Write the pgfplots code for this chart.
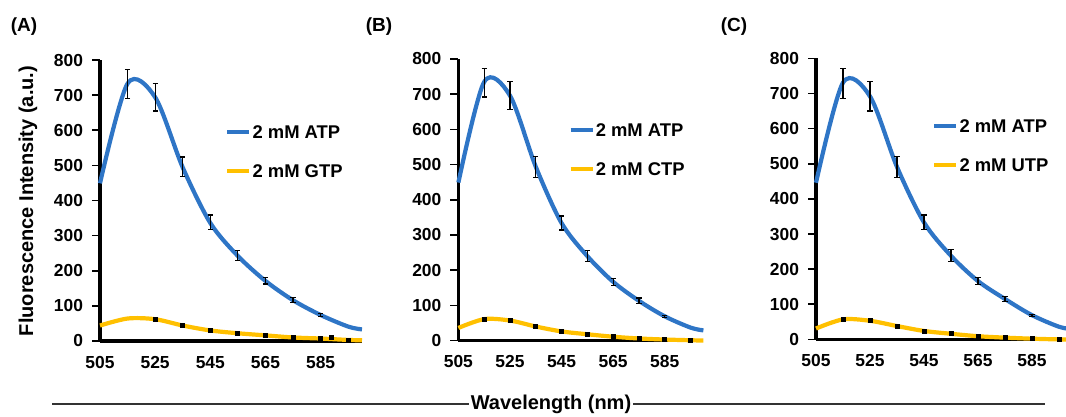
\documentclass[border=0pt]{standalone}
\usepackage{fontspec}
\setmainfont{Liberation Sans}
\usepackage{pgfplots}
\pgfplotsset{compat=1.18}

\definecolor{atpblue}{RGB}{46,117,198}
\definecolor{ntpgold}{RGB}{255,192,0}

% ---- panel A ----
\pgfplotstableread{
x y
505 449
515 733
525 694
535 494
545 336
555 242
565 171
575 116
585 74
595 41
600 33
}\atpA
\pgfplotstableread{
x y e
515 731 41
525 694 39
535 496 28
545 338 21
555 243 14
565 171 9
575 117 7
585 74 5
}\barA
\pgfplotstableread{
x y
505 44
515 64
525 62
535 44
545 30
555 22
565 16
575 10
585 7
595 3
600 2
}\gtp
\pgfplotstableread{
x y
525 62
535 44
545 30
555 22
565 16
575 10
585 8
589 9
595 2
}\gtpm

% ---- panel B ----
\pgfplotstableread{
x y
505 449
515 735
525 696
535 494
545 334
555 240
565 167
575 113
585 69
595 37
600 29
}\atpB
\pgfplotstableread{
x y e
515 733 41
525 696 40
535 494 30
545 334 20
555 240 16
565 167 10
575 113 8
585 68 3
}\barB
\pgfplotstableread{
x y
505 36
515 61
525 57
535 40
545 26
555 18
565 11
575 6
585 3
595 1
600 0
}\ctp
\pgfplotstableread{
x y
515 61
525 57
535 40
545 26
555 18
565 11
575 6
585 3
595 1
}\ctpm

% ---- panel C ----
\pgfplotstableread{
x y
505 446
515 731
525 692
535 491
545 333
555 238
565 166
575 115
585 69
595 36
600 29
}\atpC
\pgfplotstableread{
x y e
515 729 43
525 692 42
535 491 30
545 333 21
555 238 17
565 166 10
575 115 7
585 69 3
}\barC
\pgfplotstableread{
x y
505 31
515 57
525 53
535 38
545 24
555 16
565 9
575 5
585 2
595 0
600 0
}\utp
\pgfplotstableread{
x y
515 57
525 53
535 38
545 24
555 16
565 9
575 5
585 2
595 0
}\utpm

\pgfplotsset{
  panel/.style={
    scale only axis,
    anchor=south west,
    xmin=505, xmax=600, ymin=0, ymax=800,
    enlargelimits=false,
    axis x line*=bottom, axis y line*=left,
    axis line style={line width=1.6pt, -},
    xtick={505,525,545,565,585},
    ytick={0,100,...,800},
    tick align=outside,
    major tick length=4pt,
    ytick style={line width=0.8pt, black},
    xtick style={draw=none},
    /pgf/number format/assume math mode=true,
    /pgf/number format/set thousands separator={},
    tick label style={font=\bfseries\fontsize{8.7}{10}\selectfont},
    yticklabel style={xshift=-1pt},
    legend cell align=left,
    legend image code/.code={\draw[##1, line width=2.1pt] (0pt,0pt) -- (11pt,0pt);},
    legend style={draw=none, fill=none, inner sep=0pt, row sep=12pt,
      font=\bfseries\fontsize{9.2}{10}\selectfont,
      nodes={inner sep=0.5pt, text height=6.5pt, text depth=0pt}},
    clip=false,
  },
  curveA/.style={atpblue, line width=2.1pt, smooth},
  curveN/.style={ntpgold, line width=2.1pt, smooth},
  bars/.style={draw=none, mark=none, forget plot,
    error bars/.cd, y dir=both, y explicit,
    error bar style={draw=black, line width=0.6pt},
    error mark options={rotate=90, mark size=1.3pt, draw=black, line width=0.6pt}},
  dots/.style={only marks, mark=square*, mark size=1pt, black, forget plot},
}

\begin{document}
\begin{tikzpicture}[x=1pt,y=1pt]
\useasboundingbox (0,0) rectangle (533,208.5);

\begin{axis}[panel, at={(50pt,38pt)}, width=131pt, height=140.5pt,
  legend style={at={(0.477,0.675)}, anchor=west}]
\addplot[curveA] table {\atpA};
\addlegendentry{2 mM ATP}
\addplot[bars] table[y error=e] {\barA};
\addplot[curveN] table {\gtp};
\addlegendentry{2 mM GTP}
\addplot[dots] table {\gtpm};
\end{axis}

\begin{axis}[panel, at={(229.2pt,38.2pt)}, width=122.5pt, height=140.8pt,
  legend style={at={(0.448,0.68)}, anchor=west}]
\addplot[curveA] table {\atpB};
\addlegendentry{2 mM ATP}
\addplot[bars] table[y error=e] {\barB};
\addplot[curveN] table {\ctp};
\addlegendentry{2 mM CTP}
\addplot[dots] table {\ctpm};
\end{axis}

\begin{axis}[panel, at={(408pt,38.8pt)}, width=128.25pt, height=140.5pt,
  legend style={at={(0.452,0.69)}, anchor=west}]
\addplot[curveA] table {\atpC};
\addlegendentry{2 mM ATP}
\addplot[bars] table[y error=e] {\barC};
\addplot[curveN] table {\utp};
\addlegendentry{2 mM UTP}
\addplot[dots] table {\utpm};
\end{axis}

\node[rotate=90, font=\bfseries\fontsize{10}{12}\selectfont] at (14,108) {Fluorescence Intensity (a.u.)};

\node[font=\bfseries\fontsize{9.5}{11}\selectfont] at (12,195) {(A)};
\node[font=\bfseries\fontsize{9.5}{11}\selectfont] at (189.5,195) {(B)};
\node[font=\bfseries\fontsize{9.5}{11}\selectfont] at (367,195) {(C)};

\draw[line width=0.75pt, black!80] (26,6.5) -- (522.5,6.5);
\node[fill=white, inner sep=1pt, font=\bfseries\fontsize{10}{12}\selectfont] at (275.5,6.5) {Wavelength (nm)};
\end{tikzpicture}
\end{document}
